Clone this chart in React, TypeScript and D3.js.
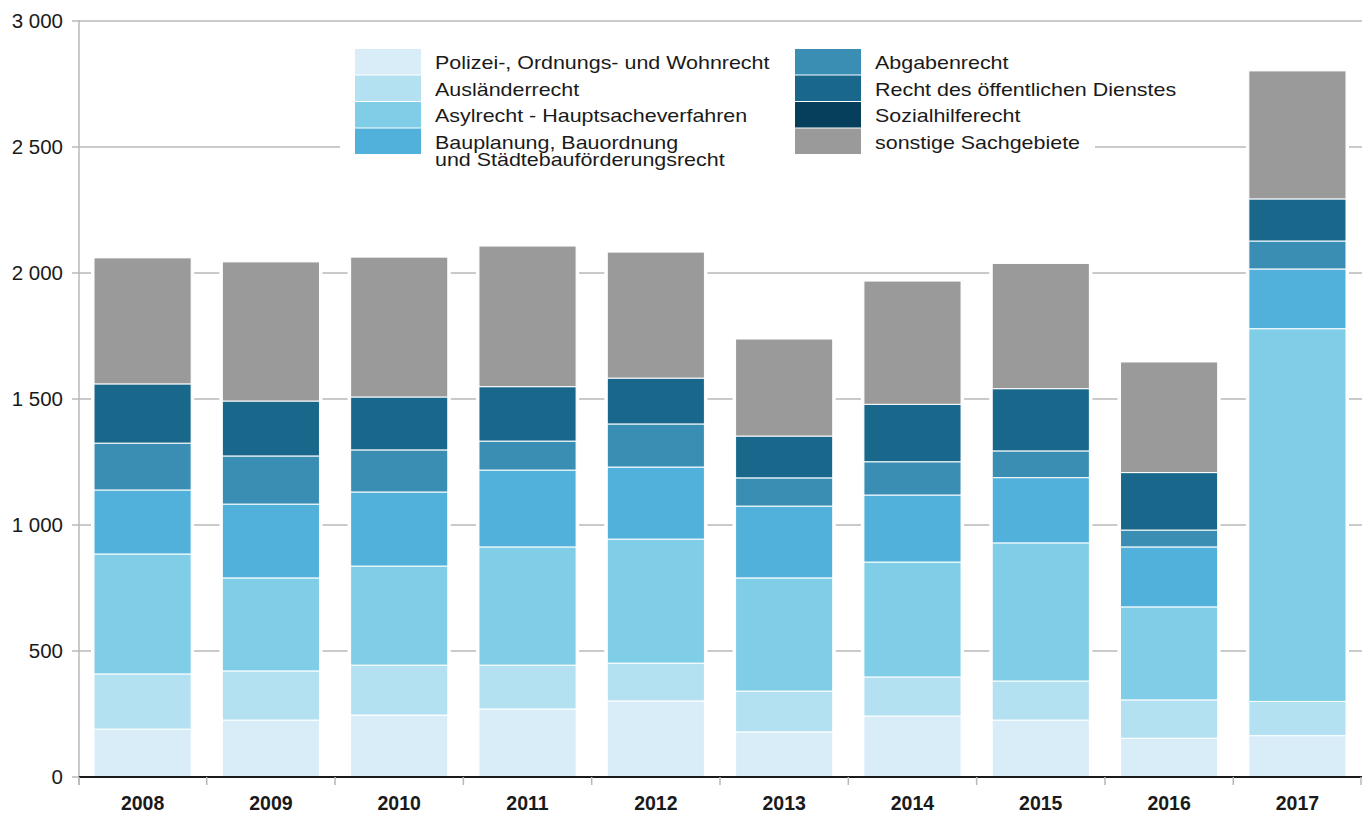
import React from "react";
import * as d3 from "d3";

// Jahre und Werte (Eingänge je Sachgebiet)
const years = ["2008", "2009", "2010", "2011", "2012", "2013", "2014", "2015", "2016", "2017"];

const polizei = [190, 226, 246, 270, 302, 179, 242, 226, 154, 164];
const auslaender = [219, 195, 198, 174, 150, 162, 155, 155, 152, 136];
const asyl = [476, 369, 393, 469, 492, 449, 456, 548, 369, 1479];
const bau = [254, 293, 294, 305, 286, 285, 266, 259, 238, 237];
const abgaben = [186, 191, 167, 115, 171, 112, 132, 106, 67, 111];
const dienst = [235, 218, 210, 216, 182, 166, 228, 247, 228, 167];
const sozial = [0, 0, 0, 0, 0, 0, 0, 0, 0, 0];
const sonstige = [500, 552, 555, 558, 500, 385, 489, 497, 439, 508];

const yTicks = [0, 500, 1000, 1500, 2000, 2500, 3000];

const series = [
  { key: "polizei", label: ["Polizei-, Ordnungs- und Wohnrecht"], color: "#d9edf8", values: polizei },
  { key: "auslaender", label: ["Ausländerrecht"], color: "#b3e1f1", values: auslaender },
  { key: "asyl", label: ["Asylrecht - Hauptsacheverfahren"], color: "#7fcde6", values: asyl },
  { key: "bau", label: ["Bauplanung, Bauordnung", "und Städtebauförderungsrecht"], color: "#52b1da", values: bau },
  { key: "abgaben", label: ["Abgabenrecht"], color: "#3b8eb3", values: abgaben },
  { key: "dienst", label: ["Recht des öffentlichen Dienstes"], color: "#19688c", values: dienst },
  { key: "sozial", label: ["Sozialhilferecht"], color: "#053f5c", values: sozial },
  { key: "sonstige", label: ["sonstige Sachgebiete"], color: "#9a9a9a", values: sonstige },
];

const W = 1367;
const H = 815;
const margin = { top: 21, right: 6, bottom: 38, left: 79 };
const font = "'Liberation Sans', Arial, sans-serif";

export default function App() {
  const x = d3
    .scaleBand()
    .domain(years)
    .range([margin.left, W - margin.right])
    .paddingInner(0.243)
    .paddingOuter(0.117);
  const y = d3.scaleLinear().domain([0, 3000]).range([H - margin.bottom, margin.top]);

  const rows = years.map((yr, i) => {
    const r: any = { year: yr };
    series.forEach((s) => (r[s.key] = s.values[i]));
    return r;
  });
  const stacked = d3.stack().keys(series.map((s) => s.key))(rows);

  const fmt = (v: number) => d3.format(",")(v).replace(",", " ");
  const step = x.step();
  const gap = (step * x.paddingInner()) / 2;
  const xTicks = [margin.left, ...years.slice(1).map((yr) => (x(yr) as number) - gap), W - margin.right];
  const totals = years.map((_, i) => d3.sum(series, (s) => s.values[i]));

  const legendRow = 26.5;
  const col1 = 355;
  const col2 = 795;
  const swW = 66;

  return (
    <svg width={W} height={H} style={{ position: "absolute", left: 0, top: 0, background: "#fff" }}>
      {/* Gitterlinien */}
      {yTicks.slice(1).map((t) => (
        <line key={t} x1={margin.left} x2={W - 5} y1={y(t)} y2={y(t)} stroke="#b8b8b8" strokeWidth={1.5} />
      ))}
      {/* y-Achse */}
      <line x1={margin.left} x2={margin.left} y1={margin.top - 1} y2={y(0) + 8} stroke="#b8b8b8" strokeWidth={1.5} />
      {yTicks.map((t) => (
        <g key={t}>
          <line x1={margin.left - 7} x2={margin.left} y1={y(t)} y2={y(t)} stroke="#b8b8b8" strokeWidth={1.5} />
          <text x={63} y={y(t)} dy="0.35em" textAnchor="end" fontFamily={font} fontSize={20.5} fill="#1a1a1a">
            {fmt(t)}
          </text>
        </g>
      ))}

      {/* Legende */}
      <rect x={340} y={40} width={755} height={135} fill="#fff" />
      {series.map((s, i) => {
        const cx = i < 4 ? col1 : col2;
        const ry = 49 + (i % 4) * legendRow;
        return (
          <g key={s.key}>
            <rect x={cx} y={ry} width={swW} height={legendRow - 1} fill={s.color} />
            <text
              transform={`translate(${cx + 80},${ry + 20}) scale(1.16,1)`}
              fontFamily={font}
              fontSize={18.5}
              fill="#1a1a1a"
            >
              {s.label.map((l, j) => (
                <tspan key={j} x={0} dy={j === 0 ? 0 : 17.5}>
                  {l}
                </tspan>
              ))}
            </text>
          </g>
        );
      })}

      {/* Weißer Rand um Balken (unterbricht Gitterlinien) */}
      {years.map((yr, i) => (
        <rect
          key={yr}
          x={(x(yr) as number) - 3}
          y={y(totals[i]) - 3}
          width={x.bandwidth() + 6}
          height={y(0) - y(totals[i]) + 3}
          fill="#fff"
        />
      ))}

      {/* Balken */}
      {stacked.map((layer, li) => (
        <g key={layer.key} fill={series[li].color}>
          {layer.map((d, i) =>
            d[1] - d[0] > 0 ? (
              <rect
                key={years[i]}
                x={x(years[i])}
                y={y(d[1])}
                width={x.bandwidth()}
                height={y(d[0]) - y(d[1])}
                stroke="#fff"
                strokeWidth={1}
              />
            ) : null
          )}
        </g>
      ))}

      {/* x-Achse */}
      <line x1={margin.left} x2={W - 5} y1={y(0)} y2={y(0)} stroke="#1a1a1a" strokeWidth={2} />
      {xTicks.map((t, i) => (
        <line key={i} x1={t} x2={t} y1={y(0)} y2={y(0) + 8} stroke="#b8b8b8" strokeWidth={1.5} />
      ))}
      {years.map((yr) => (
        <text
          key={yr}
          x={(x(yr) as number) + x.bandwidth() / 2}
          y={810}
          textAnchor="middle"
          fontFamily={font}
          fontSize={19.5}
          fontWeight="bold"
          fill="#1a1a1a"
        >
          {yr}
        </text>
      ))}
    </svg>
  );
}
